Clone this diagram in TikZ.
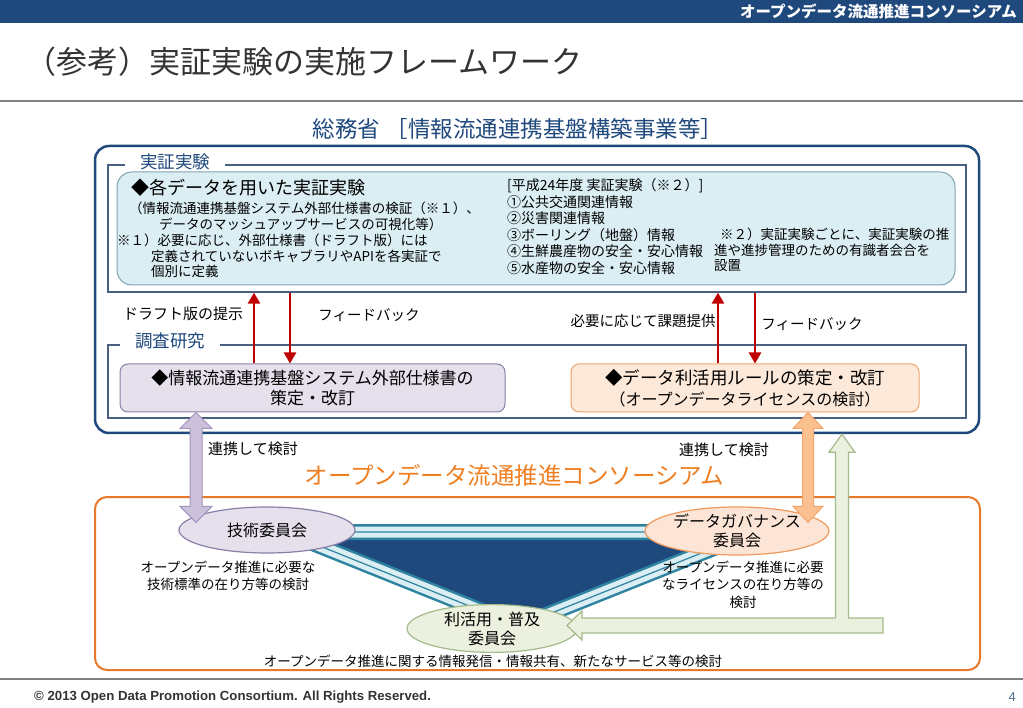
\documentclass[tikz,border=0pt]{standalone}
\usepackage{fontspec}
\setmainfont{Noto Sans CJK JP}
\newfontfamily\footfont{Liberation Sans}
\usetikzlibrary{arrows.meta,calc,shapes.geometric}
\definecolor{navy}{HTML}{1F497D}
\definecolor{titlegray}{HTML}{333333}
\definecolor{linegray}{HTML}{808080}
\definecolor{framec}{HTML}{4A6080}
\definecolor{lbfill}{HTML}{DBEEF4}
\definecolor{lbborder}{HTML}{7FA3B3}
\definecolor{purfill}{HTML}{E6E0EC}
\definecolor{purborder}{HTML}{8A7FA6}
\definecolor{orafill}{HTML}{FDE9D9}
\definecolor{oraborder}{HTML}{F2A46E}
\definecolor{redc}{HTML}{C00000}
\definecolor{govfill}{HTML}{FCE4D6}
\definecolor{govborder}{HTML}{F29A5C}
\definecolor{grnfill}{HTML}{EBF1DE}
\definecolor{grnborder}{HTML}{A5BA8A}
\definecolor{parrfill}{HTML}{CCC1DA}
\definecolor{parrborder}{HTML}{A294C0}
\definecolor{oarrfill}{HTML}{FAC090}
\definecolor{oarrborder}{HTML}{F5A46C}
\definecolor{consorange}{HTML}{F07F22}
\definecolor{consborder}{HTML}{E8782A}
\definecolor{trinavy}{HTML}{1F497D}
\definecolor{bandteal}{HTML}{2E83A0}
\definecolor{bandlight}{HTML}{DAEEF3}
\definecolor{footgray}{HTML}{333333}
\definecolor{pagenum}{HTML}{4F6A8F}
\newcommand\myfs[2]{\fontsize{#1}{#2}\selectfont}
\tikzset{
  jt/.style={inner sep=0pt, anchor=west},
  jc/.style={inner sep=0pt, align=center},
  grouplabel/.style={fill=white, inner xsep=15pt, inner ysep=0pt, text height=13pt, text depth=3pt, font=\myfs{17.5}{20}, text=navy},
  framebox/.style={draw=framec, line width=1.3pt, inner sep=0pt},
  redarr/.style={draw=redc, line width=2.5pt, -{Triangle[width=12pt,length=11pt]}},
  purarrow/.style={draw=parrborder, fill=parrfill, line width=1pt, line join=miter},
  oraarrow/.style={draw=oarrborder, fill=oarrfill, line width=1pt, line join=miter},
  grnarrow/.style={draw=grnborder, fill=grnfill, line width=1.2pt, line join=miter},
  committee/.style={ellipse, line width=1.2pt, inner sep=0pt, align=center, font=\myfs{16}{19}},
}
\begin{document}
\begin{tikzpicture}[x=1pt,y=-1pt]
\useasboundingbox (0,0) rectangle (1023,708);
\fill[white] (0,0) rectangle (1023,708);
% header
\fill[navy] (0,0) rectangle (1023,23);
\node[anchor=east, inner sep=0pt, text=white, font=\myfs{15.5}{18}\bfseries] (hdr) at (1017,11.5) {オープンデータ流通推進コンソーシアム};
\node[jt, font=\myfs{31}{36}, text=titlegray] (title) at (25,62) {（参考）実証実験の実施フレームワーク};
\draw[linegray, line width=2pt] (0,101) -- (1023,101);
\node[jc, font=\myfs{22.5}{26}, text=navy] (mic) at (518,129) {総務省 ［情報流通連携基盤構築事業等］};

% top outer box
\node[draw=navy, line width=2.5pt, rounded corners=14pt, minimum width=884pt, minimum height=287pt, inner sep=0pt] (msbox) at (537,289.5) {};

% 実証実験 group
\node[framebox, minimum width=858pt, minimum height=127pt] (frame1) at (537,228.5) {};
\node[grouplabel] (lab1) at (175,164) {実証実験};
\node[draw=lbborder, fill=lbfill, line width=1pt, rounded corners=15pt, minimum width=838pt, minimum height=113pt, inner sep=0pt] (lbbox) at (536,228.5) {};

\node[jt, font=\myfs{18}{22}] (l0) at (131,188) {◆各データを用いた実証実験};
\node[jt, font=\myfs{13.5}{16}] (l1) at (129,208) {（情報流通連携基盤システム外部仕様書の検証（※１）、};
\node[jt, font=\myfs{13.5}{16}] (l2) at (159,224) {データのマッシュアップサービスの可視化等）};
\node[jt, font=\myfs{13.5}{16}] (l3) at (117,240) {※１）必要に応じ、外部仕様書（ドラフト版）には};
\node[jt, font=\myfs{13.5}{16}] (l4) at (151,256) {定義されていないボキャブラリやAPIを各実証で};
\node[jt, font=\myfs{13.5}{16}] (l5) at (151,271) {個別に定義};

\node[jt, font=\myfs{14}{17}] (r0) at (507,186) {[平成24年度 実証実験（※２）]};
\node[jt, font=\myfs{14}{17}] (r1) at (507,202) {①公共交通関連情報};
\node[jt, font=\myfs{14}{17}] (r2) at (507,218.5) {②災害関連情報};
\node[jt, font=\myfs{14}{17}] (r3) at (507,235) {③ボーリング（地盤）情報};
\node[jt, font=\myfs{14}{17}] (r4) at (507,251.5) {④生鮮農産物の安全・安心情報};
\node[jt, font=\myfs{14}{17}] (r5) at (507,268) {⑤水産物の安全・安心情報};

\node[jt, font=\myfs{13.5}{16}] (n1) at (720,234) {※２）実証実験ごとに、実証実験の推};
\node[jt, font=\myfs{13.5}{16}] (n2) at (714,250) {進や進捗管理のための有識者会合を};
\node[jt, font=\myfs{13.5}{16}] (n3) at (714,266) {設置};

% middle labels
\node[jc, font=\myfs{15}{18}] (t1) at (183,314) {ドラフト版の提示};
\node[jc, font=\myfs{14.5}{17}] (t2) at (369,315) {フィードバック};
\node[jc, font=\myfs{14.5}{17}] (t3) at (643,321) {必要に応じて課題提供};
\node[jc, font=\myfs{14.5}{17}] (t4) at (812,324) {フィードバック};

% 調査研究 group
\node[framebox, minimum width=858pt, minimum height=73pt] (frame2) at (537,381.5) {};
\node[grouplabel] (lab2) at (170,343) {調査研究};
\node[draw=purborder, fill=purfill, line width=1pt, rounded corners=8pt, minimum width=385pt, minimum height=48pt, inner sep=0pt, align=center, font=\myfs{17}{20.5}] (infobox) at (312.5,388) {◆情報流通連携基盤システム外部仕様書の\\策定・改訂};
\node[draw=oraborder, fill=orafill, line width=1pt, rounded corners=8pt, minimum width=348pt, minimum height=48pt, inner sep=0pt, align=center, font=\myfs{17.5}{21}] (rulebox) at (745,388) {◆データ利活用ルールの策定・改訂\\{\myfs{16}{21}（オープンデータライセンスの検討）}};

% red arrows
\coordinate (rx1) at (254,0);
\coordinate (rx2) at (290,0);
\coordinate (rx3) at (718,0);
\coordinate (rx4) at (755,0);
\draw[redarr] (infobox.north -| rx1) -- (frame1.south -| rx1);
\draw[redarr] (frame1.south -| rx2) -- (infobox.north -| rx2);
\draw[redarr] (rulebox.north -| rx3) -- (frame1.south -| rx3);
\draw[redarr] (frame1.south -| rx4) -- (rulebox.north -| rx4);

% consortium
\node[jc, font=\myfs{23.5}{28}, text=consorange] (cname) at (514.5,475) {オープンデータ流通推進コンソーシアム};
\node[draw=consborder, line width=2pt, rounded corners=12pt, minimum width=885pt, minimum height=173pt, inner sep=0pt] (cbox) at (537.5,583.5) {};
\node[jc, font=\myfs{15}{18}] (k1) at (253,449) {連携して検討};
\node[jc, font=\myfs{15}{18}] (k2) at (724,450) {連携して検討};

% triangle
\coordinate (tA) at (285,532);
\coordinate (tB) at (754,532);
\coordinate (tC) at (519,626);
\fill[trinavy] (tA) -- (tB) -- (tC) -- cycle;
\draw[bandteal, line width=16pt, line join=round] (tA) -- (tB) -- (tC) -- cycle;
\draw[bandlight, line width=11pt, line join=round] (tA) -- (tB) -- (tC) -- cycle;
\draw[bandteal, line width=1.2pt, line join=round] (tA) -- (tB) -- (tC) -- cycle;

% committees
\node[committee, draw=purborder, fill=purfill, minimum width=176pt, minimum height=46pt] (tech) at (267,530) {技術委員会};
\node[committee, draw=govborder, fill=govfill, minimum width=184pt, minimum height=48pt] (gov) at (737,531) {データガバナンス\\委員会};
\node[committee, draw=grnborder, fill=grnfill, minimum width=170pt, minimum height=47pt] (use) at (492,628.5) {利活用・普及\\委員会};

\node[jc, font=\myfs{13.5}{17}] (c1) at (228,575.5) {オープンデータ推進に必要な\\技術標準の在り方等の検討};
\node[jc, font=\myfs{13.5}{17.5}] (c2) at (743,584.5) {オープンデータ推進に必要\\なライセンスの在り方等の\\検討};
\node[jc, font=\myfs{13.5}{16}] (c3) at (493,661) {オープンデータ推進に関する情報発信・情報共有、新たなサービス等の検討};

% block arrows
\coordinate (px) at (196,0);
\coordinate (pt) at (infobox.south -| px);
\coordinate (pb) at ($(tech.north -| px)+(0,16)$);
\draw[purarrow] (pt) -- ++(16,16) -- ++(-10,0) -- ($(pb)+(6,-16)$) -- ++(10,0) -- (pb) -- ++(-16,-16) -- ++(10,0) -- ($(pt)+(-6,16)$) -- ++(-10,0) -- cycle;
\coordinate (ox) at (808,0);
\coordinate (ot) at (rulebox.south -| ox);
\coordinate (ob) at ($(gov.north -| ox)+(0,16)$);
\draw[oraarrow] (ot) -- ++(15,16) -- ++(-9.5,0) -- ($(ob)+(5.5,-16)$) -- ++(9.5,0) -- (ob) -- ++(-15,-16) -- ++(9.5,0) -- ($(ot)+(-5.5,16)$) -- ++(-9.5,0) -- cycle;

\coordinate (gx) at (842,0);
\coordinate (gtip1) at (msbox.south -| gx);
\coordinate (gtip2) at (567,625.5);
\draw[grnarrow] (gtip1) -- ++(13,18) -- ++(-6.5,0) -- (848.5,618) -- (883,618) -- (883,633) -- (582,633) -- (582,640) -- (gtip2) -- (582,611) -- (582,618) -- (835.5,618) -- ($(gtip1)+(-6.5,18)$) -- ++(-6.5,0) -- cycle;

% footer
\draw[linegray, line width=2pt] (0,679) -- (1023,679);
\node[jt, font=\footfont\bfseries\myfs{13.2}{15}, text=footgray] (copy) at (34,697) {© 2013 Open Data Promotion Consortium. All Rights Reserved.};
\node[anchor=east, inner sep=0pt, font=\footfont\myfs{13}{15}, text=pagenum] (pg) at (1016,697) {4};
\end{tikzpicture}
\end{document}
